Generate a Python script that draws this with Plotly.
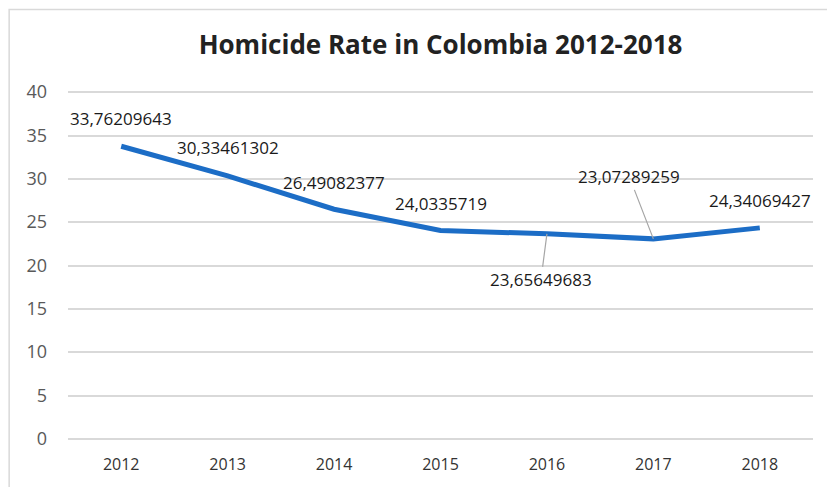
import plotly.graph_objects as go

# Homicide rate per 100k inhabitants, Colombia
years = ["2012", "2013", "2014", "2015", "2016", "2017", "2018"]
rates = [33.76209643, 30.33461302, 26.49082377, 24.0335719,
         23.65649683, 23.07289259, 24.34069427]
value_labels = ["33,76209643", "30,33461302", "26,49082377", "24,0335719",
                "23,65649683", "23,07289259", "24,34069427"]
y_ticks = [0, 5, 10, 15, 20, 25, 30, 35, 40]

# label placement offsets in pixels (dx, dy) and whether a leader line is drawn
label_offsets = [(0, -28), (0, -28), (0, -27), (0, -27), (-6, 46), (-24, -62), (0, -27)]
leader = [False, False, False, False, True, True, False]

LINE_BLUE = "#1c6dc6"
GRID = "#d9d9d9"

fig = go.Figure()
fig.add_trace(go.Scatter(
    x=years, y=rates, mode="lines",
    line=dict(color=LINE_BLUE, width=5),
    hoverinfo="skip", showlegend=False,
))

label_font = dict(family="Open Sans", size=17, color="#1a1a1a")
for i, (val, txt, (dx, dy), lead) in enumerate(zip(rates, value_labels, label_offsets, leader)):
    if lead:
        fig.add_annotation(
            x=i, y=val, xref="x", yref="y", text=txt,
            showarrow=True, arrowhead=0, arrowwidth=1.2, arrowcolor="#a6a6a6",
            ax=dx, ay=dy, font=label_font,
        )
    else:
        fig.add_annotation(
            x=i, y=val, xref="x", yref="y", text=txt,
            showarrow=False, xshift=dx, yshift=-dy, font=label_font,
        )

fig.update_layout(
    width=827, height=487,
    margin=dict(l=68, r=14, t=90, b=44),
    paper_bgcolor="white", plot_bgcolor="white",
    title=dict(
        text="<b>Homicide Rate in Colombia 2012-2018</b>",
        x=0.5, xref="paper", xanchor="center",
        y=1 - 45 / 487, yref="container", yanchor="middle",
        font=dict(family="Open Sans", size=26, color="#222222"),
    ),
    xaxis=dict(
        type="category", range=[-0.5, 6.5],
        showgrid=False, showline=False, zeroline=False, ticks="",
        tickfont=dict(family="Open Sans", size=16, color="#333333"),
        ticklabelstandoff=12,
    ),
    yaxis=dict(
        range=[-0.25, 40.25], tickvals=y_ticks,
        showgrid=True, gridcolor=GRID, gridwidth=1.5,
        zeroline=False, showline=False, ticks="",
        tickfont=dict(family="Open Sans", size=18, color="#595959"),
        ticklabelstandoff=20,
    ),
    shapes=[dict(
        type="rect", xref="paper", yref="paper",
        x0=-0.079, x1=1.2, y0=-0.3, y1=1.229,
        line=dict(color=GRID, width=1.5), fillcolor="rgba(0,0,0,0)", layer="below",
    )],
)

fig.write_html("out.html")
